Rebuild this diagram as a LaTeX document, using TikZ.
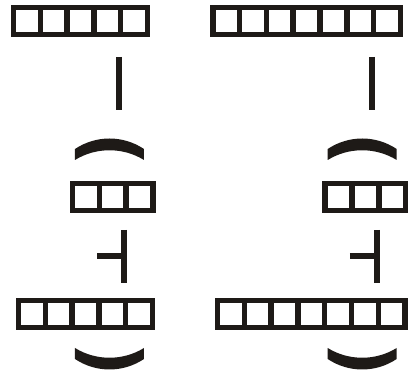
\documentclass[tikz,border=0pt]{standalone}
\usepackage{xcolor}
\definecolor{BarBlack}{HTML}{1E1A17}
\tikzset{
    % Line styles - sharp corners
    strip/.style={
        draw=BarBlack,
        line width=0.11cm,
        miter limit=10
    },
    bond/.style={
        draw=BarBlack,
        line width=0.115cm
    },
    lens/.style={
        fill=BarBlack,
        draw=none
    }
}
% left end, top, number of cells
\newcommand{\cellstrip}[3]{
    \draw[strip] (#1,#2) rectangle ++(#3*26.8,27);
    \foreach \k in {1,...,#3}{
        \ifnum\k<#3
            \draw[strip] (#1+\k*26.8,#2) -- ++(0,27);
        \fi
    }
}
% left end, y at the end points, +1 bulges up, -1 bulges down
\newcommand{\lensarc}[3]{
    \fill[lens] (#1,#2)
        .. controls (#1+21,#2-14*#3) and (#1+48,#2-14*#3) .. (#1+69,#2)
        -- (#1+69,#2+11*#3)
        .. controls (#1+48,#2-2*#3) and (#1+21,#2-2*#3) .. (#1,#2+11*#3)
        -- cycle;
}

\begin{document}
\begin{tikzpicture}[x=0.02cm, y=-0.02cm]
    \useasboundingbox (0,0) rectangle (414,375);

    % Top strips
    \cellstrip{13.5}{7.5}{5}
    \cellstrip{212.8}{7.5}{7}

    % Left and right columns
    \foreach \dx in {0,252.7}{
        % Single bond
        \draw[bond] (119+\dx,57) -- (119+\dx,110);
        % Upper arc
        \lensarc{75+\dx}{149}{1}
        % Short strip
        \cellstrip{72.5+\dx}{183.5}{3}
        % Stem and branch
        \draw[bond] (124.3+\dx,230) -- (124.3+\dx,283);
        \draw[bond] (97.3+\dx,255.7) -- (124.3+\dx,255.7);
        % Lower arc
        \lensarc{75+\dx}{359}{-1}
    }

    % Bottom strips
    \cellstrip{18.5}{300.5}{5}
    \cellstrip{217.5}{300.5}{7}
\end{tikzpicture}
\end{document}
